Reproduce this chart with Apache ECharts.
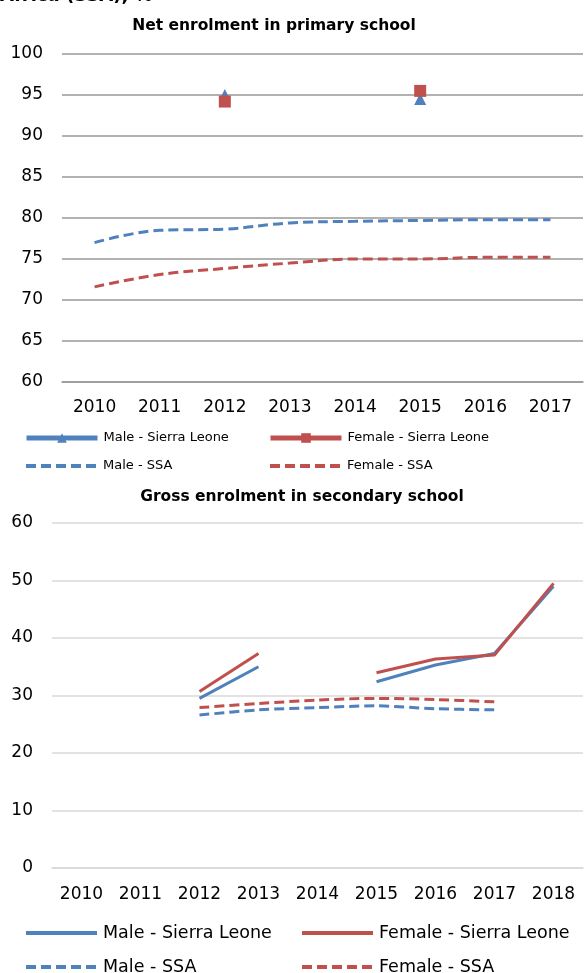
<!DOCTYPE html>
<html><head><meta charset="utf-8">
<script src="https://cdn.jsdelivr.net/npm/echarts@6/dist/echarts.min.js"></script>
<style>html,body{margin:0;padding:0;background:#fff}#c{width:584px;height:973px}</style>
</head><body><div id="c"></div>
<script>
const yearsPrimary = ['2010','2011','2012','2013','2014','2015','2016','2017'];
const primMaleSL   = [null, null, 95.0, null, null, 94.5, null, null];
const primFemaleSL = [null, null, 94.2, null, null, 95.5, null, null];
const primMaleSSA  = [77.0, 78.5, 78.65, 79.4, 79.6, 79.7, 79.8, 79.8];
const primFemaleSSA= [71.6, 73.1, 73.85, 74.5, 75.0, 75.0, 75.2, 75.2];

const yearsSecondary = ['2010','2011','2012','2013','2014','2015','2016','2017','2018'];
const secMaleSL    = [null, null, 29.5, 35.0, null, 32.4, 35.3, 37.3, 49.0];
const secFemaleSL  = [null, null, 30.7, 37.3, null, 33.95, 36.35, 37.05, 49.5];
const secMaleSSA   = [null, null, 26.6, 27.5, 27.9, 28.2, 27.7, 27.5, null];
const secFemaleSSA = [null, null, 27.9, 28.6, 29.2, 29.5, 29.3, 28.9, null];

const BLUE = '#4F81BD', RED = '#C0504D';
const FONT = 'DejaVu Sans';
const chart = echarts.init(document.getElementById('c'));

function leg(name, left, centerY, fontSize, hideSymbol, lw, ih) {
  const item = {name: name};
  if (hideSymbol) item.itemStyle = {opacity: 0};
  return {orient:'horizontal', left: left, top: centerY - 10, height: 20,
    itemWidth: 71, itemHeight: ih, padding: 0,
    lineStyle: {width: lw},
    data: [item],
    textStyle: {color:'#000', fontFamily: FONT, fontSize: fontSize, lineHeight: 20, padding:[0,0,0,1]}};
}

chart.setOption({
  animation: false,
  textStyle: {fontFamily: FONT},
  title: [
    {text: 'Africa (SSA), %', left: 0, top: -13, padding: 0, textStyle:{fontFamily: FONT, fontWeight:'bold', fontSize:18, color:'#000'}},
    {text: 'Net enrolment in primary school', left: 274, top: 18, padding: 0, textAlign:'center', textStyle:{fontFamily: FONT, fontWeight:'bold', fontSize:15.5, color:'#000'}},
    {text: 'Gross enrolment in secondary school', left: 302, top: 489, padding: 0, textAlign:'center', textStyle:{fontFamily: FONT, fontWeight:'bold', fontSize:15.5, color:'#000'}}
  ],
  grid: [
    {left: 62, right: 1, top: 54, height: 328},
    {left: 52, right: 1, top: 523, height: 345}
  ],
  xAxis: [
    {type:'category', gridIndex:0, data: yearsPrimary, boundaryGap:true,
     axisLine:{lineStyle:{color:'#999', width:1.5}}, axisTick:{show:false},
     axisLabel:{color:'#000', fontSize:17, margin:17, fontFamily: FONT}},
    {type:'category', gridIndex:1, data: yearsSecondary, boundaryGap:true,
     axisLine:{lineStyle:{color:'#d9d9d9', width:1.5}}, axisTick:{show:false},
     axisLabel:{color:'#000', fontSize:17, margin:18, fontFamily: FONT}}
  ],
  yAxis: [
    {type:'value', gridIndex:0, min:60, max:100, interval:5,
     axisLine:{show:false}, axisTick:{show:false},
     splitLine:{lineStyle:{color:'#999', width:1.5}},
     axisLabel:{color:'#000', fontSize:17, margin:19, fontFamily: FONT}},
    {type:'value', gridIndex:1, min:0, max:60, interval:10,
     axisLine:{show:false}, axisTick:{show:false},
     splitLine:{lineStyle:{color:'#d9d9d9', width:1.5}},
     axisLabel:{color:'#000', fontSize:17, margin:19, fontFamily: FONT}}
  ],
  legend: [
    leg('Male - Sierra Leone', 24, 438, 13, false, 5, 12),
    leg('Male - SSA', 24, 466, 13, true, 4, 9),
    leg('Female - Sierra Leone', 268, 438, 13, false, 5, 12),
    leg('Female - SSA', 268, 466, 13, true, 4, 9),
    leg('Male - Sierra Leone ', 24, 933, 17.5, true, 4, 14),
    leg('Male - SSA ', 24, 967, 17.5, true, 4, 14),
    leg('Female - Sierra Leone ', 300, 933, 17.5, true, 4, 14),
    leg('Female - SSA ', 300, 967, 17.5, true, 4, 14)
  ],
  series: [
    {name:'Male - Sierra Leone', type:'line', xAxisIndex:0, yAxisIndex:0, data: primMaleSL,
     symbol:'triangle', symbolSize:12, color: BLUE, lineStyle:{width:4, color:BLUE}, itemStyle:{color:BLUE}},
    {name:'Female - Sierra Leone', type:'line', xAxisIndex:0, yAxisIndex:0, data: primFemaleSL,
     symbol:'rect', symbolSize:12, color: RED, lineStyle:{width:4, color:RED}, itemStyle:{color:RED}},
    {name:'Male - SSA', type:'line', xAxisIndex:0, yAxisIndex:0, data: primMaleSSA, smooth:0.4,
     symbol:'none', color: BLUE, lineStyle:{width:3, color:BLUE, type:[10,5]}},
    {name:'Female - SSA', type:'line', xAxisIndex:0, yAxisIndex:0, data: primFemaleSSA, smooth:0.4,
     symbol:'none', color: RED, lineStyle:{width:3, color:RED, type:[10,5]}},

    {name:'Male - Sierra Leone ', type:'line', xAxisIndex:1, yAxisIndex:1, data: secMaleSL,
     symbol:'none', color: BLUE, lineStyle:{width:3, color:BLUE}},
    {name:'Female - Sierra Leone ', type:'line', xAxisIndex:1, yAxisIndex:1, data: secFemaleSL,
     symbol:'none', color: RED, lineStyle:{width:3, color:RED}},
    {name:'Male - SSA ', type:'line', xAxisIndex:1, yAxisIndex:1, data: secMaleSSA, smooth:0.3,
     symbol:'none', color: BLUE, lineStyle:{width:3, color:BLUE, type:[10,5]}},
    {name:'Female - SSA ', type:'line', xAxisIndex:1, yAxisIndex:1, data: secFemaleSSA, smooth:0.3,
     symbol:'none', color: RED, lineStyle:{width:3, color:RED, type:[10,5]}}
  ]
});
</script></body></html>
